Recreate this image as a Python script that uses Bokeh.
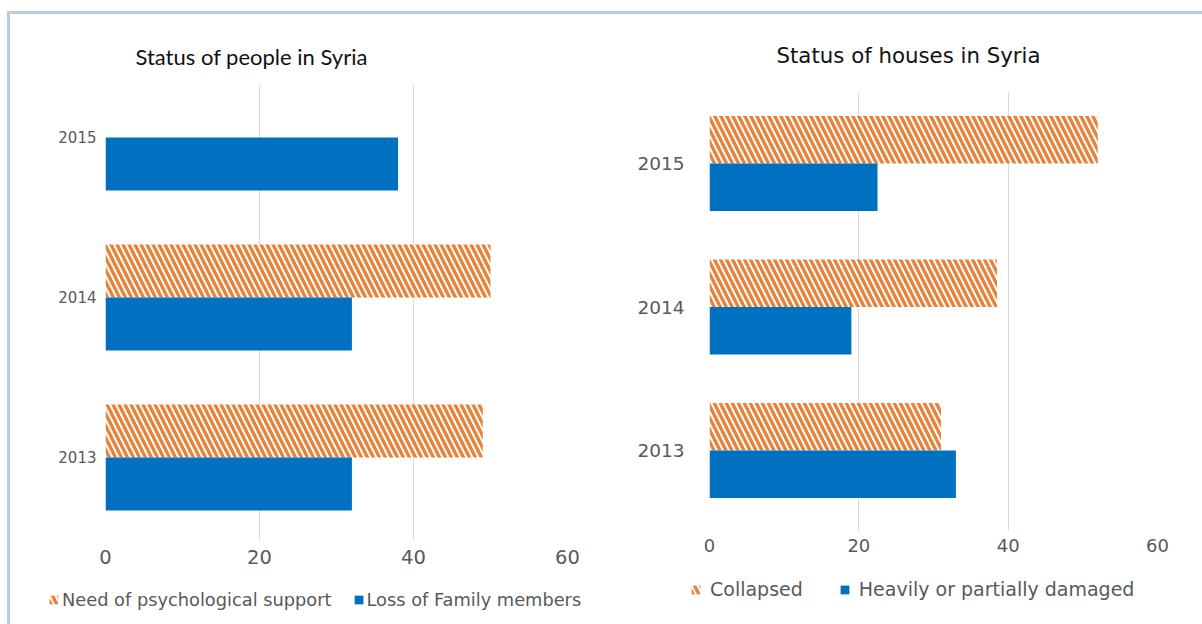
import math
from bokeh.plotting import figure
from bokeh.layouts import row, column
from bokeh.models import ColumnDataSource, FixedTicker, Legend, LegendItem
from bokeh.embed import file_html
from bokeh.resources import INLINE

years = ["2013", "2014", "2015"]
people_psych = [49, 50, float("nan")]
people_loss = [32, 32, 38]
houses_collapsed = [31, 38.5, 52]
houses_damaged = [33, 19, 22.5]
x_ticks = [0, 20, 40, 60]

BLUE = "#0070c0"
ORANGE = "#e8823a"
GRID = "#d9d9d9"
TICK = "#595959"
BG = "#ffffff"
FONT = "DejaVu Sans"
BH = 0.331

HATCH = dict(fill_color=BG, line_color=None, hatch_pattern="left_diagonal_line",
             hatch_color=ORANGE, hatch_scale=12, hatch_weight=3.4)


def sources(s1, s2):
    idx = list(range(len(years)))
    d1 = [(i + BH / 2, v) for i, v in zip(idx, s1) if not math.isnan(v)]
    src1 = ColumnDataSource(dict(y=[a for a, _ in d1], v=[b for _, b in d1]))
    src2 = ColumnDataSource(dict(y=[i - BH / 2 for i in idx], v=s2))
    return src1, src2


def make_chart(width, height, borders, y_range, title, src1, src2,
               ytick_size, xtick_size, y_standoff, x_standoff,
               title_font, title_size, title_offset, title_standoff):
    top, right, bottom, left = borders
    p = figure(width=width, height=height, output_backend="svg", toolbar_location=None,
               x_range=(0, 60), y_range=y_range, min_border_top=top,
               min_border_right=right, min_border_bottom=bottom, min_border_left=left,
               background_fill_color=BG, border_fill_color=BG, outline_line_color=None,
               frame_align=False)
    idx = list(range(len(years)))
    p.hbar(y="y", left=0, right="v", height=BH, source=src1, **HATCH)
    p.hbar(y="y", left=0, right="v", height=BH, source=src2, fill_color=BLUE,
           line_color=None)
    p.xaxis.ticker = FixedTicker(ticks=x_ticks)
    p.yaxis.ticker = FixedTicker(ticks=idx)
    p.yaxis.major_label_overrides = {i: y for i, y in zip(idx, years)}
    for ax in (p.xaxis, p.yaxis):
        ax.axis_line_color = None
        ax.major_tick_line_color = None
        ax.minor_tick_line_color = None
        ax.major_label_text_color = TICK
        ax.major_label_text_font = FONT
    p.yaxis.major_label_text_font_size = ytick_size
    p.xaxis.major_label_text_font_size = xtick_size
    p.yaxis.major_label_standoff = y_standoff
    p.xaxis.major_label_standoff = x_standoff
    p.xgrid.grid_line_color = GRID
    p.ygrid.grid_line_color = None
    p.title.text = title
    p.title.text_font = title_font
    p.title.text_font_style = "normal"
    p.title.text_font_size = title_size
    p.title.text_color = "#111111"
    p.title.align = "left"
    p.title.offset = title_offset
    p.title.standoff = title_standoff
    return p


def make_legend(width, height, src1, src2, labels, loc, size, spacing, standoff):
    # the bars sit far outside this small figure's view; only their legend glyphs show
    p = figure(width=width, height=height, output_backend="svg", toolbar_location=None,
               x_axis_type=None, y_axis_type=None, x_range=(0, 1), y_range=(100, 101),
               min_border=0, background_fill_color=BG, border_fill_color=BG,
               outline_line_color=None, frame_align=False)
    p.xgrid.visible = False
    p.ygrid.visible = False
    r1 = p.hbar(y="y", left=0, right="v", height=BH, source=src1, **HATCH)
    r2 = p.hbar(y="y", left=0, right="v", height=BH, source=src2,
                fill_color=BLUE, line_color=None)
    leg = Legend(items=[LegendItem(label=labels[0], renderers=[r1], index=0),
                        LegendItem(label=labels[1], renderers=[r2], index=0)],
                 location=loc, orientation="horizontal",
                 label_text_font=FONT, label_text_font_size=size,
                 label_text_color=TICK, border_line_color=None,
                 background_fill_alpha=0, padding=0, margin=0,
                 spacing=spacing, label_standoff=standoff,
                 glyph_width=11, glyph_height=11)
    p.add_layout(leg)
    return p


ps1, ps2 = sources(people_psych, people_loss)
hs1, hs2 = sources(houses_collapsed, houses_damaged)

c1 = make_chart(590, 560, (71, 33, 34, 95), (-0.519, 2.325), "Status of people in Syria",
                ps1, ps2, "15px", "19.5px", 3, 3,
                "Lato", "22px", 30, 31)
l1 = make_legend(590, 50, ps1, ps2, ["Need of psychological support", "Loss of Family members"],
                 (38, 14), "17.8px", 21, 3)
c2 = make_chart(602, 550, (78, 45, 34, 109), (-0.557, 2.495), "Status of houses in Syria",
                hs1, hs2, "18.5px", "18px", 19, 2,
                FONT, "21.3px", 67, 49)
l2 = make_legend(602, 60, hs1, hs2, ["Collapsed", "Heavily or partially damaged"],
                 (90, 24), "19px", 36, 9)

layout = row(column(c1, l1, spacing=0), column(c2, l2, spacing=0), spacing=0,
             margin=(11, 0, 0, 7),
             styles={"border-top": "3px solid #b9cae6", "border-left": "3px solid #b9cae6"})

open("out.html", "w").write(file_html(layout, INLINE))
